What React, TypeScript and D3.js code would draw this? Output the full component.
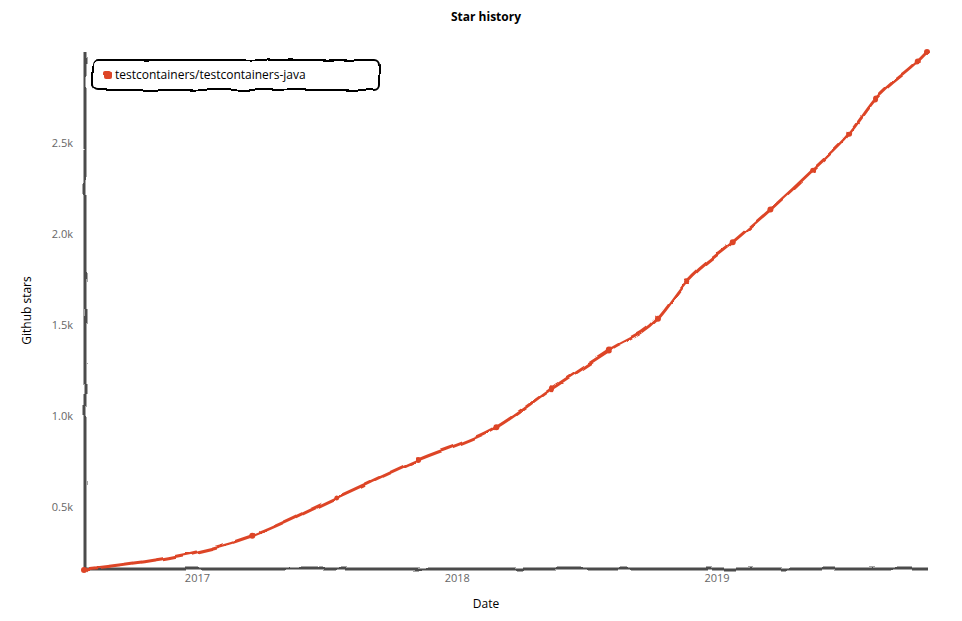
import React from "react";
import * as d3 from "d3";

const dates = [
  "2016-07-27", "2017-03-19", "2017-07-15", "2017-11-07", "2018-02-25",
  "2018-05-14", "2018-08-02", "2018-10-10", "2018-11-20", "2019-01-23",
  "2019-03-17", "2019-05-16", "2019-07-07", "2019-08-11", "2019-10-10",
  "2019-10-23",
];
const stars = [
  157, 340, 550, 757, 937, 1151, 1359, 1534, 1741, 1955, 2135, 2354, 2558,
  2741, 2950, 3002,
];
const yTicks = [500, 1000, 1500, 2000, 2500];
const xTicks = ["2017-01-01", "2018-01-01", "2019-01-01"];
const seriesName = "testcontainers/testcontainers-java";
const title = "Star history";
const xLabel = "Date";
const yLabel = "Github stars";

const W = 962;
const H = 621;
const M = { left: 85, right: 35, top: 52, bottom: 52 };
const COLOR = "#dd4528";
const AXIS = "#4b4b4b";
const FONT = "'Open Sans', 'DejaVu Sans', sans-serif";

export default function App() {
  const parse = d3.timeParse("%Y-%m-%d");
  const data = dates.map((d, i) => ({ t: parse(d) as Date, v: stars[i] }));
  const x = d3
    .scaleTime()
    .domain(d3.extent(data, (d) => d.t) as [Date, Date])
    .range([M.left, W - M.right]);
  const y = d3
    .scaleLinear()
    .domain(d3.extent(data, (d) => d.v) as [number, number])
    .range([H - M.bottom, M.top]);
  const line = d3
    .line<{ t: Date; v: number }>()
    .x((d) => x(d.t))
    .y((d) => y(d.v))
    .curve(d3.curveMonotoneX);
  const x0 = M.left;
  const x1 = W - M.right;
  const yb = H - M.bottom;
  const fmt = (v: number) => (v / 1000).toFixed(1) + "k";

  return (
    <div style={{ position: "absolute", left: 0, top: 0 }}>
      <svg width={W} height={H} style={{ display: "block", background: "#fff" }}>
        <defs>
          <filter
            id="xkcdify"
            filterUnits="userSpaceOnUse"
            x="-5"
            y="-5"
            width="100%"
            height="100%"
          >
            <feTurbulence type="fractalNoise" baseFrequency="0.05" result="noise" />
            <feDisplacementMap
              scale="5"
              xChannelSelector="R"
              yChannelSelector="G"
              in="SourceGraphic"
              in2="noise"
            />
          </filter>
          <filter
            id="xkcdAxis"
            filterUnits="userSpaceOnUse"
            x="-5"
            y="-5"
            width="100%"
            height="100%"
          >
            <feTurbulence type="fractalNoise" baseFrequency="0.05" result="noise" />
            <feDisplacementMap
              scale="3"
              xChannelSelector="R"
              yChannelSelector="G"
              in="SourceGraphic"
              in2="noise"
            />
          </filter>
        </defs>
        <rect x={0} y={0} width={W} height={H} fill="#fff" />
        <text
          x={486}
          y={21}
          textAnchor="middle"
          fontFamily={FONT}
          fontSize={12}
          fontWeight="bold"
          fill="#000"
        >
          {title}
        </text>
        <g filter="url(#xkcdAxis)">
          <line x1={x0} y1={yb} x2={x1} y2={yb} stroke={AXIS} strokeWidth={3} />
          <line x1={x0} y1={M.top} x2={x0} y2={yb} stroke={AXIS} strokeWidth={3} />
        </g>
        {yTicks.map((t) => (
          <text
            key={t}
            x={x0 - 12}
            y={y(t)}
            dy="0.35em"
            textAnchor="end"
            fontFamily={FONT}
            fontSize={11}
            fill="#666"
          >
            {fmt(t)}
          </text>
        ))}
        {xTicks.map((t) => (
          <text
            key={t}
            x={x(parse(t) as Date)}
            y={yb + 13}
            textAnchor="middle"
            fontFamily={FONT}
            fontSize={11}
            fill="#666"
          >
            {d3.timeFormat("%Y")(parse(t) as Date)}
          </text>
        ))}
        <text
          x={486}
          y={608}
          textAnchor="middle"
          fontFamily={FONT}
          fontSize={12}
          fill="#000"
        >
          {xLabel}
        </text>
        <text
          transform={`translate(31, ${(M.top + yb) / 2}) rotate(-90)`}
          textAnchor="middle"
          fontFamily={FONT}
          fontSize={12}
          fill="#000"
        >
          {yLabel}
        </text>
        <g filter="url(#xkcdify)">
          <path d={line(data) || ""} fill="none" stroke={COLOR} strokeWidth={3} strokeLinecap="round" />
          {data.map((d, i) => (
            <circle key={i} cx={x(d.t)} cy={y(d.v)} r={3} fill={COLOR} />
          ))}
        </g>
        <g filter="url(#xkcdify)">
          <rect x={93} y={60} width={286} height={30} rx={5} fill="#fff" stroke="#000" strokeWidth={2} />
          <rect x={103} y={71} width={8} height={8} rx={2} fill={COLOR} />
        </g>
        <text x={115} y={79} fontFamily={FONT} fontSize={12} fill="#000">
          {seriesName}
        </text>
      </svg>
    </div>
  );
}
